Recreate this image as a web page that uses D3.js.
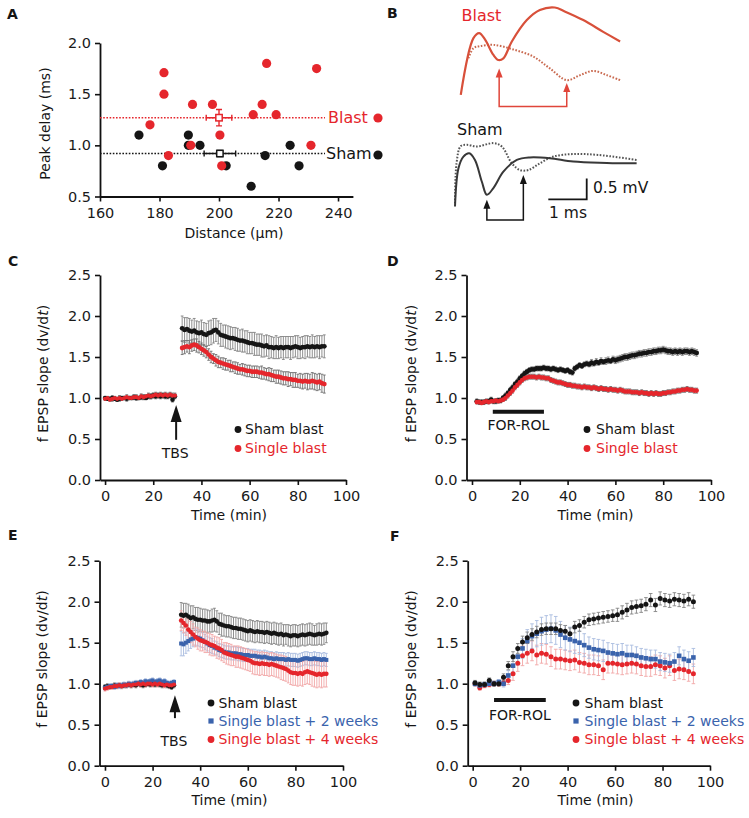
<!DOCTYPE html>
<html><head><meta charset="utf-8">
<script src="https://cdn.jsdelivr.net/npm/d3@7"></script>
<style>body{margin:0;background:#fff}</style>
</head><body><script>
const h = s => s.trim().split(/\s+/).map(d => +d / 100);

// ---------- Panel A data ----------
const blastDistance = [181.5,181.5,176.8,183,191.1,197.8,190.5,200.3,200.9,216,214.5,211.5,219.2,232.8,230.9];
const blastDelay    = [1.71,1.50,1.20,0.90,1.40,1.40,1.00,1.10,0.80,1.80,1.40,1.30,1.30,1.75,1.00];
const shamDistance  = [173.1,181,189.7,189.7,193.6,202.4,210.8,215.5,223.9,226.9];
const shamDelay     = [1.10,0.80,1.10,1.00,1.00,0.80,0.60,0.90,1.00,0.80];
const meanDistance  = [200.0, 200.3];   // blast, sham
const meanDelay     = [1.27, 0.92];
const meanDistErr   = [4.3, 5.3];
const meanDelayErr  = [0.08, 0.03];
const aXTicks = [160,180,200,220,240];
const aYTicks = [0.5,1.0,1.5,2.0];

// ---------- Panel B traces [ms, mV] ----------
const blastSolid = [[0.15,2.98],[0.48,4.33],[0.63,4.45],[0.78,4.30],[1.00,3.93],[1.13,3.81],[1.26,3.85],[1.48,4.25],[1.87,4.76],[2.21,5.0],[2.60,5.06],[2.87,4.96],[3.34,4.76],[3.86,4.48],[4.30,4.25]];
const blastDotted = [[0.35,3.85],[0.48,4.09],[0.65,4.14],[1.00,4.17],[1.52,4.06],[2.04,3.89],[2.47,3.61],[2.91,3.33],[3.26,3.45],[3.60,3.55],[3.95,3.45],[4.30,3.33]];
const shamSolid = [[0.00,0.32],[0.09,1.23],[0.22,1.51],[0.37,1.59],[0.52,1.43],[0.70,0.91],[0.83,0.60],[1.00,0.76],[1.26,1.15],[1.61,1.43],[1.95,1.49],[2.47,1.47],[3.08,1.39],[3.95,1.36],[4.73,1.35]];
const shamDotted = [[0.00,0.40],[0.04,1.35],[0.15,1.76],[0.31,1.79],[0.57,1.75],[1.00,1.83],[1.22,1.75],[1.48,1.35],[1.69,1.19],[1.91,1.19],[2.21,1.35],[2.56,1.51],[3.08,1.57],[3.72,1.55],[4.73,1.43]];
const blastArrowT = [1.15, 2.91], blastArrowTip = [3.61, 3.26], blastArrowBase = 2.70;
const shamArrowT = [0.83, 1.78], shamArrowTip = [0.48, 1.07], shamArrowBase = 0.0;

// ---------- Panel C ----------
const cBaseTime = d3.range(0, 30), cPostTime = d3.range(32, 92);
const cShamBase = h("100 99 99 100 99 98 99 100 100 99 100 100 101 100 100 101 101 100 102 102 103 102 103 102 103 102 102 103 98 102");
const cBlastBase = h("99 100 98 99 100 99 100 99 100 101 100 100 101 101 100 102 101 102 103 102 103 104 103 104 103 104 103 104 103 103");
const cBaseErr = h("2 2 2 3 2 2 3 2 2 3 2 2 3 3 2 3 3 2 3 3 3 3 3 3 3 3 3 3 3 3");
const cShamPost = h(`185 183 184 182 181 182 180 179 180 178 177 179 180 182 183 180 177 176 175 174
 173 173 172 171 170 170 169 168 167 167 166 165 165 164 163 164 162 162 161 162
 161 162 161 162 162 161 162 163 162 161 162 162 163 162 163 162 163 162 163 163`);
const cShamPostErr = h(`15 15 14 15 14 15 14 14 15 14 14 15 15 15 14 14 14 13 14 14
 14 13 14 14 13 14 13 14 13 13 14 13 13 14 13 13 14 13 13 14
 13 13 14 13 13 14 13 13 14 13 13 14 13 13 14 13 13 14 13 14`);
const cBlastPost = h(`161 162 163 162 164 165 164 162 160 158 156 153 150 148 146 144 143 142 141 140
 139 138 137 136 135 135 134 133 133 132 132 132 131 131 130 129 129 128 127 126
 126 125 124 124 123 123 122 122 121 121 120 121 120 120 121 120 119 120 118 117`);
const cBlastPostErr = h(`8 8 7 8 7 7 8 7 7 7 7 7 7 6 7 7 6 7 7 6
 7 6 7 7 6 7 7 7 7 7 7 7 7 8 7 7 8 8 7 8
 8 8 8 8 9 8 9 9 8 9 9 9 10 9 10 10 10 10 11 11`);

// ---------- Panel D ----------
const dTime = d3.range(2, 95);
const dSham = h(`96 95 95 95 96 96 98 96 96 97 97 100 103 106 110 113 117 120 124 127
 130 132 134 135 135 136 136 136 137 136 136 135 136 135 134 135 134 133 134 132
 131 136 138 140 139 141 142 141 143 142 144 143 145 144 145 146 145 147 146 147
 148 149 150 150 151 152 152 153 154 154 155 155 156 156 157 157 158 158 159 158
 157 157 156 157 156 157 156 157 157 156 157 156 155`);
const dShamErr = h(`3 3 3 3 3 3 3 3 3 3 3 3 3 3 3 3 3 3 3 3 3 3 3 3 3 3 3 3 3 3 3 3 3 3 3 3 3 3 3 3
 3 3 3 3 3 3 3 3 4 3 4 3 4 3 4 4 3 4 4 4 4 4 4 4 4 4 4 4 4 4 4 4 4 4 4 4 4 4 4 4
 4 4 4 4 4 4 4 4 4 4 4 4 4`);
const dBlast = h(`95 95 94 95 96 95 96 96 97 96 97 98 100 103 106 109 113 116 119 122
 124 125 126 126 126 125 126 125 125 124 124 122 121 120 119 119 118 117 116 116
 115 115 114 114 113 114 113 113 112 113 112 111 112 111 111 110 111 110 110 109
 110 109 108 108 108 107 107 107 106 107 106 106 105 106 105 106 105 105 106 106
 107 107 108 108 109 109 110 110 111 110 110 109 109`);
const dBlastErr = h(`2 2 2 2 2 2 2 2 2 2 2 2 3 3 3 3 3 3 3 3 3 3 3 3 3 3 3 3 3 3 3 3 3 3 3 3 3 3 3 3
 3 3 3 3 3 3 3 3 3 3 3 3 3 3 3 3 3 3 3 3 3 3 3 3 3 3 3 3 3 3 3 3 3 3 3 3 3 3 3 3
 3 3 3 3 3 3 3 3 3 3 3 3 3`);

// ---------- Panel E ----------
const eBaseTime = d3.range(0, 30), ePostTime = d3.range(32, 94);
const eShamBase = h("96 97 96 97 98 97 98 97 98 98 99 98 99 98 100 99 98 99 100 99 100 99 100 99 98 99 98 97 96 98");
const eWk2Base = h("95 96 97 97 96 98 97 98 99 98 100 99 100 101 100 102 101 103 102 103 104 102 103 104 102 103 101 100 101 102");
const eWk4Base = h("94 95 96 96 97 97 98 97 98 98 99 98 99 99 100 99 100 99 100 100 99 100 99 100 99 98 99 98 98 99");
const eBaseErr = h("3 3 3 3 3 3 3 3 3 3 3 3 3 3 3 3 3 3 3 3 3 3 3 3 3 3 3 3 3 3");
const eShamPost = h(`184 183 184 182 180 181 179 178 178 177 177 176 176 177 178 176 173 172 171 170
 170 169 168 168 167 167 166 165 164 165 164 163 164 163 163 162 163 162 161 162
 161 160 161 159 160 159 158 159 159 158 159 160 159 160 161 160 159 160 161 160 161 162`);
const eShamPostErr = h(`15 15 14 15 15 14 14 15 14 14 14 14 13 14 14 13 13 14 13 13
 13 13 13 13 13 13 13 13 13 13 13 13 13 13 13 13 13 13 13 13
 13 13 13 13 12 13 13 13 13 13 13 13 13 13 13 13 12 13 13 13 13 12`);
const eWk2Post = h(`149 148 150 152 154 155 157 156 155 153 151 149 147 146 144 143 141 140 139 138
 138 137 137 137 136 136 135 135 135 134 134 134 133 133 132 133 132 131 131 130
 131 130 130 130 129 130 129 129 129 128 129 130 131 131 130 130 131 130 130 129 130 129`);
const eWk2PostErr = h(`15 14 13 12 11 10 10 10 10 9 9 9 9 9 8 8 8 8 8 8
 8 8 8 8 8 8 8 8 8 8 8 8 8 8 8 8 8 8 8 8
 8 8 8 8 8 8 8 8 8 8 8 8 8 8 8 8 8 8 8 8 8 8`);
const eWk4Post = h(`177 174 171 166 163 160 157 155 153 152 151 150 148 147 146 144 143 141 138 137
 136 135 134 133 133 132 131 130 129 128 126 125 125 124 125 124 124 123 124 123
 122 121 120 119 118 116 114 113 113 112 113 112 114 115 114 113 112 111 112 111 112 112`);
const eWk4PostErr = h(`12 12 12 13 13 13 12 13 13 12 13 12 13 13 12 13 13 13 12 13
 13 13 12 13 13 13 13 13 13 13 14 14 14 14 14 14 14 14 14 14
 14 14 15 15 15 15 15 15 15 15 15 15 15 15 15 16 16 16 16 16 16 16`);

// ---------- Panel F ----------
const fTime = d3.range(1, 94, 2);
const fSham = h(`101 99 99 104 100 100 108 122 133 143 151 156 160 163 166 167 167 167 165 164
 161 169 171 175 178 179 180 181 182 183 184 187 190 193 194 195 197 202 196 204
 202 201 203 202 201 203 200`);
const fShamErr = h(`3 3 3 3 3 3 4 5 6 6 7 7 7 7 7 7 7 7 7 7 7 7 7 7 7 7 7 7 7 7
 8 8 8 8 8 8 8 8 8 8 8 8 8 8 8 8 8`);
const fWk2 = h(`100 98 99 100 100 102 100 110 122 133 143 152 158 161 164 166 167 165 160 156
 154 152 150 147 144 142 141 140 138 137 136 137 135 135 134 132 131 130 130 127
 126 125 127 134 130 128 132`);
const fWk2Err = h(`3 3 3 3 3 3 4 6 8 10 12 14 15 16 17 17 17 17 16 15 15 15 14 14 13 13 13 13 12 12
 12 12 12 12 11 11 11 11 11 11 11 11 11 11 11 11 11`);
const fWk4 = h(`100 95 98 99 100 100 101 104 112 125 134 137 140 135 137 136 133 130 130 129
 128 129 126 125 123 123 122 117 125 125 124 123 124 125 124 122 121 121 123 122
 119 122 116 118 117 115 112`);
const fWk4Err = h(`3 3 3 3 3 3 4 5 8 10 12 12 12 12 12 12 12 12 12 12 12 12 12 12 12 12 12 12 12 12
 12 12 12 12 12 12 12 12 12 12 12 12 12 12 12 12 12`);

const timeXTicks = [0,20,40,60,80,100];
const slopeYTicks = [0,0.5,1.0,1.5,2.0,2.5];
const legend2 = ["Sham blast","Single blast"];
const legend3 = ["Sham blast","Single blast + 2 weeks","Single blast + 4 weeks"];

// ---------- styles ----------
const FONT = "'DejaVu Sans', 'Liberation Sans', sans-serif";
const BLACK = "#151515", RED = "#e5262c", BLUE = "#3a63ac";
const GRAY_ERR = "#858585", RED_ERR = "#f2a7a7", BLUE_ERR = "#a9bce0";

const svg = d3.select("body").append("svg").attr("width", 749).attr("height", 818)
  .style("font-family", FONT);

function txt(g, x, y, s, opts = {}) {
  const t = g.append("text").attr("x", x).attr("y", y).text(s)
    .attr("font-size", opts.size || 14).attr("fill", opts.fill || BLACK)
    .attr("text-anchor", opts.anchor || "start").attr("font-family", FONT);
  if (opts.weight) t.attr("font-weight", opts.weight);
  return t;
}

function axes(g, x, y, xt, yt, xfmt) {
  const ax = g.append("g").attr("transform", `translate(0,${y.range()[0]})`)
    .call(d3.axisBottom(x).tickValues(xt).tickSize(5).tickPadding(6).tickSizeOuter(0).tickFormat(xfmt || d3.format("d")));
  const ay = g.append("g").attr("transform", `translate(${x.range()[0]},0)`)
    .call(d3.axisLeft(y).tickValues(yt).tickSize(5).tickPadding(4).tickSizeOuter(0).tickFormat(d3.format(".1f")));
  [ax, ay].forEach(a => {
    a.attr("font-family", FONT).attr("font-size", 14.5);
    a.select(".domain").attr("stroke", "#111").attr("stroke-width", 1.8);
    a.selectAll(".tick line").attr("stroke", "#111").attr("stroke-width", 1.6);
    a.selectAll(".tick text").attr("fill", "#1a1a1a");
  });
}

function yTitle(g, cx, cy, parts) {
  const t = g.append("text").attr("transform", `translate(${cx},${cy}) rotate(-90)`)
    .attr("text-anchor", "middle").attr("font-size", 14).attr("fill", BLACK).attr("font-family", FONT);
  parts.forEach(p => t.append("tspan").text(p[0]).attr("font-style", p[1] ? "italic" : null));
}

// ================= Panel A =================
{
  const g = svg.append("g");
  const x = d3.scaleLinear([160, 245], [100, 352.9]);
  const y = d3.scaleLinear([0.5, 2.0], [196.5, 43]);
  axes(g, x, y, aXTicks, aYTicks);
  txt(g, 7, 19, "A", { size: 14, weight: "bold" });
  yTitle(g, 50, 123.5, [["Peak delay (ms)"]]);
  txt(g, 234, 238, "Distance (µm)", { anchor: "middle" });

  g.append("line").attr("x1", x(160)).attr("x2", 325).attr("y1", y(meanDelay[0])).attr("y2", y(meanDelay[0]))
    .attr("stroke", RED).attr("stroke-width", 1.5).attr("stroke-dasharray", "1.6 1.6");
  g.append("line").attr("x1", x(160)).attr("x2", 325).attr("y1", y(meanDelay[1])).attr("y2", y(meanDelay[1]))
    .attr("stroke", BLACK).attr("stroke-width", 1.5).attr("stroke-dasharray", "1.6 1.6");

  g.selectAll(".sham").data(shamDistance).join("circle").attr("cx", d => x(d))
    .attr("cy", (d, i) => y(shamDelay[i])).attr("r", 4.6).attr("fill", BLACK);
  g.selectAll(".blast").data(blastDistance).join("circle").attr("cx", d => x(d))
    .attr("cy", (d, i) => y(blastDelay[i])).attr("r", 4.6).attr("fill", RED);

  [0, 1].forEach(i => {
    const c = i === 0 ? RED : BLACK;
    const cx = x(meanDistance[i]), cy = y(meanDelay[i]);
    const x1 = x(meanDistance[i] - meanDistErr[i]), x2 = x(meanDistance[i] + meanDistErr[i]);
    const y1 = y(meanDelay[i] + meanDelayErr[i]), y2 = y(meanDelay[i] - meanDelayErr[i]);
    g.append("path").attr("d", `M${x1},${cy}H${x2}M${x1},${cy - 3}V${cy + 3}M${x2},${cy - 3}V${cy + 3}M${cx},${y1}V${y2}M${cx - 3},${y1}H${cx + 3}M${cx - 3},${y2}H${cx + 3}`)
      .attr("stroke", c).attr("stroke-width", 1.4).attr("fill", "none");
    g.append("rect").attr("x", cx - 3.2).attr("y", cy - 3.2).attr("width", 6.4).attr("height", 6.4)
      .attr("fill", "#fff").attr("stroke", c).attr("stroke-width", 1.5);
  });
  txt(g, 328, 123, "Blast", { size: 16, fill: RED });
  txt(g, 326, 159, "Sham", { size: 16, fill: BLACK });
  g.append("circle").attr("cx", 378).attr("cy", 118).attr("r", 4.6).attr("fill", RED);
  g.append("circle").attr("cx", 378).attr("cy", 155).attr("r", 4.6).attr("fill", BLACK);
}

// ================= Panel B =================
{
  const g = svg.append("g");
  const x = d3.scaleLinear([0, 5], [455, 647]);
  const y = d3.scaleLinear([0, 5], [220, 10]);
  const line = d3.line().x(d => x(d[0])).y(d => y(d[1])).curve(d3.curveCatmullRom.alpha(0.5));
  txt(g, 387, 18, "B", { size: 14, weight: "bold" });
  txt(g, 461.5, 21, "Blast", { size: 16, fill: RED });
  txt(g, 457, 135, "Sham", { size: 16 });
  const TR = "#d8503a";
  g.append("path").attr("d", line(blastDotted)).attr("fill", "none").attr("stroke", "#c9694f").attr("stroke-width", 2).attr("stroke-dasharray", "1.6 1.6");
  g.append("path").attr("d", line(blastSolid)).attr("fill", "none").attr("stroke", TR).attr("stroke-width", 2.2);
  g.append("path").attr("d", line(shamDotted)).attr("fill", "none").attr("stroke", "#555").attr("stroke-width", 2).attr("stroke-dasharray", "1.6 1.6");
  g.append("path").attr("d", line(shamSolid)).attr("fill", "none").attr("stroke", "#383838").attr("stroke-width", 2);

  function arrows(ts, tips, base, color) {
    const xb = ts.map(t => x(t)), yb = y(base);
    g.append("path").attr("d", `M${xb[0]},${y(tips[0]) + 6}V${yb}H${xb[1]}V${y(tips[1]) + 6}`)
      .attr("fill", "none").attr("stroke", color).attr("stroke-width", 1.5);
    ts.forEach((t, i) => {
      const X = x(t), Y = y(tips[i]);
      g.append("path").attr("d", `M${X},${Y}L${X - 3.5},${Y + 9}L${X + 3.5},${Y + 9}Z`).attr("fill", color);
    });
  }
  arrows(blastArrowT, blastArrowTip, blastArrowBase, "#e0453a");
  arrows(shamArrowT, shamArrowTip, shamArrowBase, "#151515");

  const sbT = 3.43, sbV = 0.49;
  g.append("path").attr("d", `M${x(sbT - 1)},${y(sbV)}H${x(sbT)}V${y(sbV + 0.5)}`)
    .attr("fill", "none").attr("stroke", "#151515").attr("stroke-width", 1.8);
  txt(g, 593, 192.5, "0.5 mV", { size: 15.5 });
  txt(g, 549, 218, "1 ms", { size: 15.5 });
}

// ================= Time panels =================
function timePanel(cfg) {
  const g = svg.append("g");
  const x = d3.scaleLinear(cfg.xd, cfg.xr);
  const y = d3.scaleLinear([0, 2.5], cfg.yr);
  axes(g, x, y, timeXTicks, slopeYTicks);
  txt(g, cfg.letter[1], cfg.letter[2], cfg.letter[0], { size: 14, weight: "bold" });
  yTitle(g, cfg.yt[0], cfg.yt[1], [["f EPSP slope (dv/d"], ["t", true], [")"]]);
  txt(g, cfg.xt[0], cfg.xt[1], "Time (min)", { anchor: "middle" });

  cfg.series.forEach(s => {
    const cap = s.cap ?? 1.4;
    const pts = s.t.map((t, i) => ({ t, v: s.v[i], e: s.e[i] ?? 0 }));
    g.append("g").selectAll("path").data(pts).join("path")
      .attr("d", d => {
        const X = x(d.t), y1 = y(d.v + d.e), y2 = y(d.v - d.e);
        return `M${X},${y1}V${y2}M${X - cap},${y1}H${X + cap}M${X - cap},${y2}H${X + cap}`;
      })
      .attr("fill", "none").attr("stroke", s.ec).attr("stroke-width", 0.9);
  });
  cfg.series.forEach(s => {
    const pts = s.t.map((t, i) => ({ t, v: s.v[i] }));
    const gg = g.append("g").attr("fill", s.c);
    if (s.shape === "square") {
      gg.selectAll("rect").data(pts).join("rect").attr("x", d => x(d.t) - s.r).attr("y", d => y(d.v) - s.r)
        .attr("width", s.r * 2).attr("height", s.r * 2);
    } else {
      gg.selectAll("circle").data(pts).join("circle").attr("cx", d => x(d.t)).attr("cy", d => y(d.v)).attr("r", s.r);
    }
  });

  if (cfg.tbs) {
    const X = x(cfg.tbs.t);
    g.append("line").attr("x1", X).attr("x2", X).attr("y1", y(cfg.tbs.tip) + 10).attr("y2", y(cfg.tbs.bottom))
      .attr("stroke", BLACK).attr("stroke-width", 2);
    g.append("path").attr("d", `M${X},${y(cfg.tbs.tip)}L${X - 5.5},${y(cfg.tbs.tip) + 17}L${X + 5.5},${y(cfg.tbs.tip) + 17}Z`).attr("fill", BLACK);
    txt(g, X - 1, y(cfg.tbs.label), "TBS", { anchor: "middle" });
  }
  if (cfg.drug) {
    g.append("line").attr("x1", x(cfg.drug.t0)).attr("x2", x(cfg.drug.t1)).attr("y1", y(cfg.drug.v)).attr("y2", y(cfg.drug.v))
      .attr("stroke", BLACK).attr("stroke-width", 4);
    txt(g, x((cfg.drug.t0 + cfg.drug.t1) / 2), y(cfg.drug.label), "FOR-ROL", { anchor: "middle" });
  }
  const L = cfg.legend;
  L.labels.forEach((lab, i) => {
    const s = L.styles[i], yy = L.y[i];
    if (s.shape === "square") g.append("rect").attr("x", L.mx - 2.6).attr("y", yy - 4.5 - 2.6).attr("width", 5.2).attr("height", 5.2).attr("fill", s.c);
    else g.append("circle").attr("cx", L.mx).attr("cy", yy - 4.5).attr("r", 3.4).attr("fill", s.c);
    txt(g, L.tx, yy, lab, { fill: s.c });
  });
}

const stBlack = { c: BLACK, shape: "circle" }, stRed = { c: RED, shape: "circle" }, stBlue = { c: BLUE, shape: "square" };

timePanel({
  xd: [-2.1, 100], xr: [100, 346], yr: [480, 275], letter: ["C", 8, 266], yt: [48, 373.5], xt: [229, 520],
  series: [
    { t: cBaseTime, v: cShamBase, e: cBaseErr, c: BLACK, ec: GRAY_ERR, r: 2.3 },
    { t: cPostTime, v: cShamPost, e: cShamPostErr, c: BLACK, ec: GRAY_ERR, r: 2.4 },
    { t: cBaseTime, v: cBlastBase, e: cBaseErr, c: RED, ec: "#707070", r: 2.1 },
    { t: cPostTime, v: cBlastPost, e: cBlastPostErr, c: RED, ec: "#707070", r: 2.4 }
  ],
  tbs: { t: 29.5, tip: 0.915, bottom: 0.49, label: 0.27 },
  legend: { labels: legend2, styles: [stBlack, stRed], mx: 238, tx: 245, y: [434, 453] }
});

timePanel({
  xd: [-2.3, 100], xr: [466.5, 711], yr: [480, 275], letter: ["D", 387, 266], yt: [416, 373.5], xt: [595.5, 520],
  series: [
    { t: dTime, v: dSham, e: dShamErr, c: BLACK, ec: GRAY_ERR, r: 2.4 },
    { t: dTime, v: dBlast, e: dBlastErr, c: RED, ec: "#707070", r: 2.3 }
  ],
  drug: { t0: 8.7, t1: 30.1, v: 0.833, label: 0.61 },
  legend: { labels: legend2, styles: [stBlack, stRed], mx: 587, tx: 596, y: [434, 453] }
});

timePanel({
  xd: [-2.3, 100], xr: [99.5, 343], yr: [765.7, 560.7], letter: ["E", 8, 540], yt: [47, 659], xt: [229.5, 805],
  series: [
    { t: eBaseTime, v: eShamBase, e: eBaseErr, c: BLACK, ec: GRAY_ERR, r: 2.2 },
    { t: eBaseTime, v: eWk2Base, e: eBaseErr, c: BLUE, ec: BLUE_ERR, r: 2.0, shape: "square" },
    { t: eBaseTime, v: eWk4Base, e: eBaseErr, c: RED, ec: RED_ERR, r: 2.1 },
    { t: ePostTime, v: eShamPost, e: eShamPostErr, c: BLACK, ec: GRAY_ERR, r: 2.3 },
    { t: ePostTime, v: eWk2Post, e: eWk2PostErr, c: BLUE, ec: BLUE_ERR, r: 2.0, shape: "square" },
    { t: ePostTime, v: eWk4Post, e: eWk4PostErr, c: RED, ec: RED_ERR, r: 2.3 }
  ],
  tbs: { t: 29.4, tip: 0.86, bottom: 0.58, label: 0.24 },
  legend: { labels: legend3, styles: [stBlack, stBlue, stRed], mx: 211, tx: 218.5, y: [707.5, 725.5, 744] }
});

timePanel({
  xd: [-2.1, 100], xr: [467.7, 710], yr: [765.7, 560.7], letter: ["F", 390, 541], yt: [416, 659], xt: [595.5, 805],
  series: [
    { t: fTime, v: fWk4, e: fWk4Err, c: RED, ec: RED_ERR, r: 2.5, cap: 1.8 },
    { t: fTime, v: fWk2, e: fWk2Err, c: BLUE, ec: BLUE_ERR, r: 2.3, shape: "square", cap: 1.8 },
    { t: fTime, v: fSham, e: fShamErr, c: BLACK, ec: GRAY_ERR, r: 2.5, cap: 1.8 }
  ],
  drug: { t0: 9, t1: 30.8, v: 0.80, label: 0.557 },
  legend: { labels: legend3, styles: [stBlack, stBlue, stRed], mx: 576, tx: 584.5, y: [707.5, 725.5, 744] }
});
</script></body></html>
